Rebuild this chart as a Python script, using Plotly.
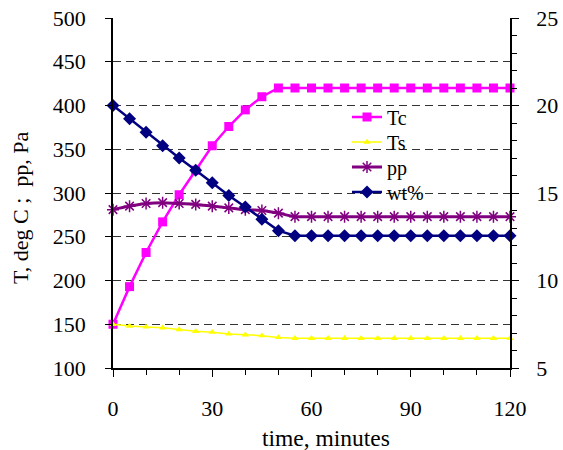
import plotly.graph_objects as go

time = [0, 5, 10, 15, 20, 25, 30, 35, 40, 45, 50, 55, 60, 65, 70, 75, 80, 85, 90, 95, 100, 105, 110, 115, 120]
Tc = [150, 193, 232, 267, 298, 326, 354, 376, 395, 410, 420, 420, 420, 420, 420, 420, 420, 420, 420, 420, 420, 420, 420, 420, 420]
Ts = [150, 148, 147, 146, 144, 142, 141, 139, 138, 137, 135, 134, 134, 134, 134, 134, 134, 134, 134, 134, 134, 134, 134, 134, 134]
pp = [281, 285, 288, 289, 288, 287, 285, 283, 281, 280, 277, 273, 273, 273, 273, 273, 273, 273, 273, 273, 273, 273, 273, 273, 273]
wt = [20.0, 19.25, 18.47, 17.7, 17.0, 16.3, 15.58, 14.86, 14.2, 13.5, 12.85, 12.56, 12.56, 12.56, 12.56, 12.56, 12.56, 12.56, 12.56, 12.56, 12.56, 12.56, 12.56, 12.56, 12.56]

x_ticks = [0, 30, 60, 90, 120]
y_left_ticks = [100, 150, 200, 250, 300, 350, 400, 450, 500]
y_right_ticks = [5, 10, 15, 20, 25]

FONT = "Liberation Serif"
L, T, W, H = 113, 18, 397, 350


def px(xp):
    return (xp - L) / W


def py(yp):
    return 1 - (yp - T) / H


fig = go.Figure()
fig.add_trace(go.Scatter(x=time, y=Tc, name="Tc", mode="lines+markers", legend="legend",
                         line=dict(color="#FF00FF", width=2.5),
                         marker=dict(symbol="square", size=9, color="#FF00FF"),
                         cliponaxis=False))
fig.add_trace(go.Scatter(x=time, y=Ts, name="Ts", mode="lines+markers", legend="legend2",
                         line=dict(color="#FFFF00", width=1.5),
                         marker=dict(symbol="triangle-up", size=6.5, color="#FFFF00"),
                         cliponaxis=False))
fig.add_trace(go.Scatter(x=time, y=pp, name="pp", mode="lines+markers", legend="legend3",
                         line=dict(color="#800080", width=3, shape="spline"),
                         marker=dict(symbol="asterisk-open", size=10,
                                     line=dict(color="#993399", width=1.5)),
                         cliponaxis=False))
fig.add_trace(go.Scatter(x=time, y=wt, name="wt%", mode="lines+markers", yaxis="y2", legend="legend4",
                         line=dict(color="#000080", width=2.5),
                         marker=dict(symbol="diamond", size=10, color="#000080"),
                         cliponaxis=False))

# white legend background area hiding gridlines
fig.add_shape(type="rect", xref="paper", yref="paper",
              x0=px(318), x1=px(467), y0=py(212), y1=py(100),
              fillcolor="white", line=dict(width=0), layer="between")


def leg(yc):
    return dict(x=px(347), y=py(yc), xanchor="left", yanchor="middle",
                bgcolor="rgba(0,0,0,0)", font=dict(family=FONT, size=20, color="black"),
                itemwidth=30)


fig.update_layout(
    width=563, height=450,
    margin=dict(l=L, r=53, t=T, b=82, autoexpand=False),
    plot_bgcolor="white", paper_bgcolor="white",
    font=dict(family=FONT, size=22, color="black"),
    showlegend=True,
    legend=leg(117), legend2=leg(142), legend3=leg(167), legend4=leg(192),
    xaxis=dict(range=[0, 120], tickvals=x_ticks, showline=True, linecolor="black", linewidth=1.5,
               ticks="outside", ticklen=7, tickcolor="black", showgrid=False, zeroline=False,
               ticklabelstandoff=13, automargin=False,
               tickfont=dict(family=FONT, size=22, color="black"),
               minor=dict(dtick=10, ticks="outside", ticklen=5, tickcolor="black")),
    yaxis=dict(range=[100, 500], tickvals=y_left_ticks, showline=True, linecolor="black", linewidth=1.5,
               ticks="outside", ticklen=6, tickcolor="black", zeroline=False,
               showgrid=True, gridcolor="#333333", gridwidth=1, griddash="8px,5px",
               ticklabelstandoff=15, automargin=False,
               tickfont=dict(family=FONT, size=22, color="black")),
    yaxis2=dict(range=[5, 25], tickvals=y_right_ticks, overlaying="y", side="right",
                showline=True, linecolor="black", linewidth=1.5, showgrid=False, zeroline=False,
                ticks="outside", ticklen=7, tickcolor="black", ticklabelstandoff=13,
                automargin=False,
                tickfont=dict(family=FONT, size=22, color="black"),
                minor=dict(dtick=1, ticks="outside", ticklen=5, tickcolor="black")),
    annotations=[
        dict(text="T, deg C ;&nbsp; pp, Pa", xref="paper", yref="paper",
             x=px(21), y=py(208), textangle=-90,
             showarrow=False, xanchor="center", yanchor="middle",
             font=dict(family=FONT, size=22, color="black")),
        dict(text="time, minutes", xref="paper", yref="paper",
             x=px(326), y=py(438),
             showarrow=False, xanchor="center", yanchor="middle",
             font=dict(family=FONT, size=23.5, color="black")),
    ],
)

fig.write_html("out.html", config={"displayModeBar": False},
               post_script="document.body.style.margin='0';document.body.style.padding='0';")
